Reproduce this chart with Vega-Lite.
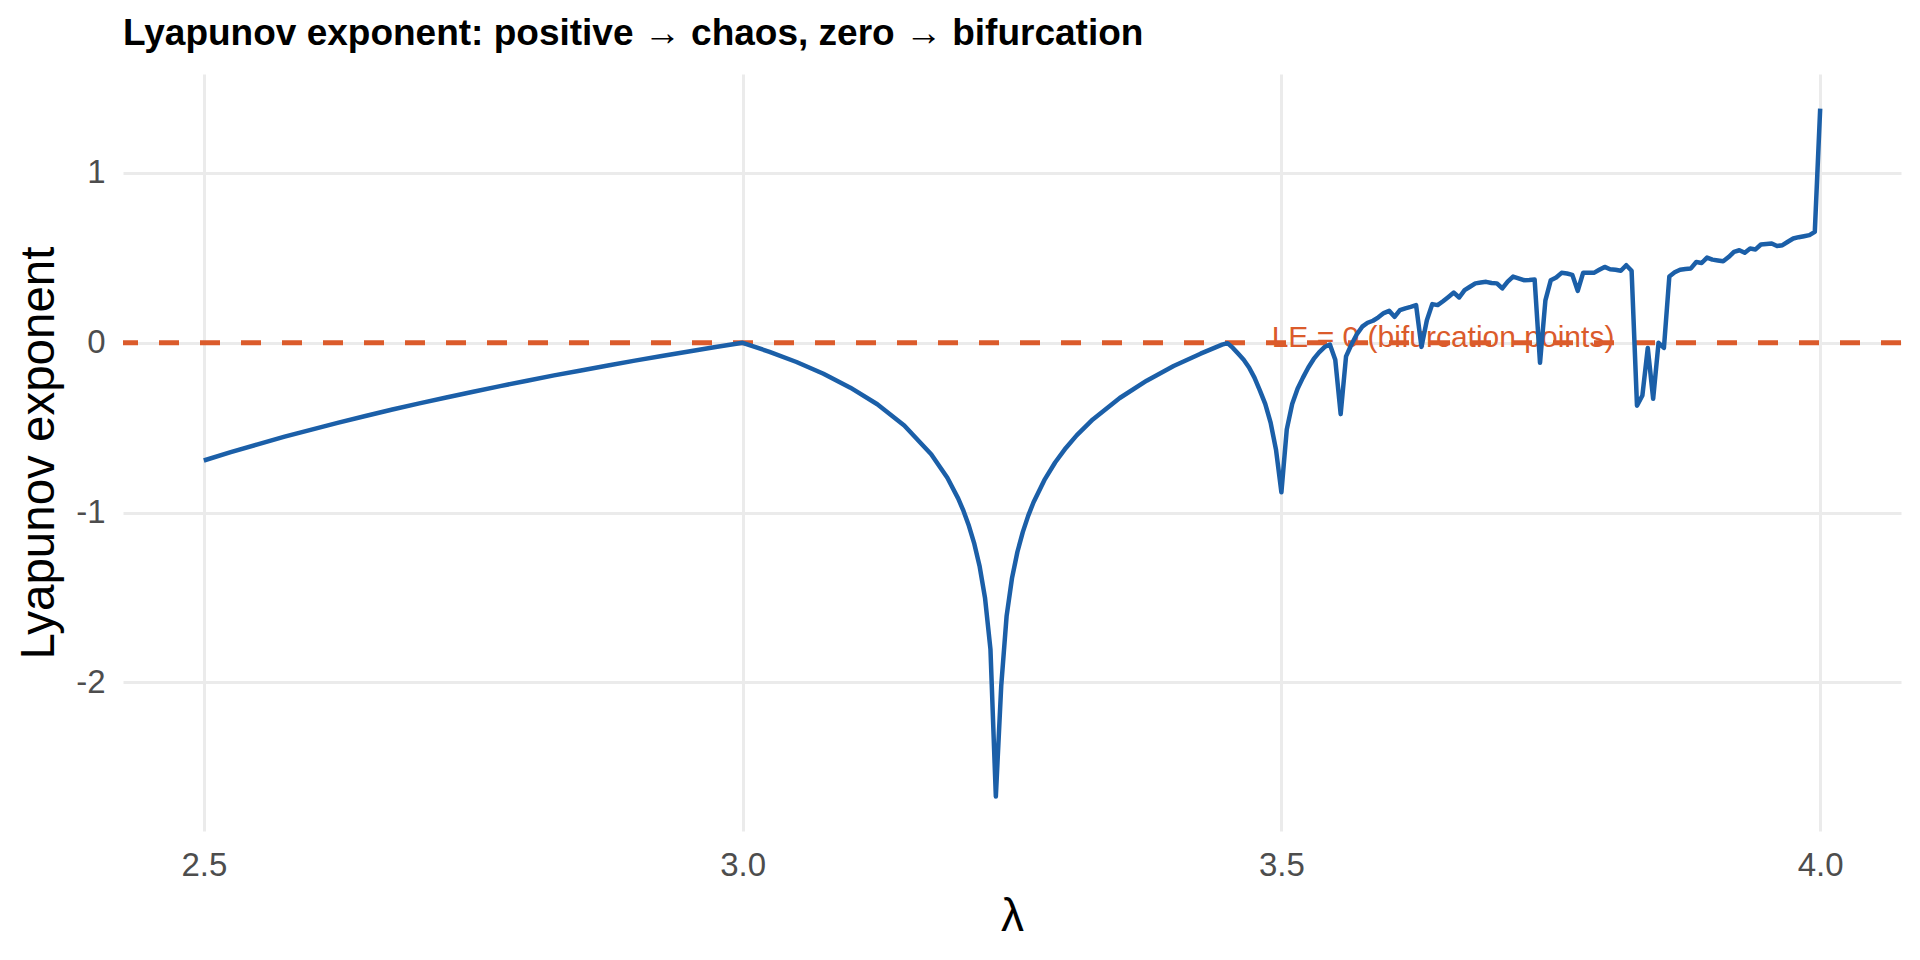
{
  "$schema": "https://vega.github.io/schema/vega-lite/v6.json",
  "width": 1778,
  "height": 757,
  "autosize": {"type": "none"},
  "padding": {"left": 123, "top": 74, "right": 19, "bottom": 129},
  "background": "white",
  "title": {
    "text": "Lyapunov exponent: positive → chaos, zero → bifurcation",
    "anchor": "start",
    "frame": "group",
    "font": "Liberation Sans",
    "fontSize": 37,
    "fontWeight": "bold",
    "color": "#000000",
    "baseline": "alphabetic",
    "offset": -8
  },
  "layer": [
    {
      "data": {"values": [{}]},
      "mark": {"type": "rule", "color": "#DB5B2B", "strokeWidth": 5, "strokeDash": [20, 21]},
      "encoding": {
        "y": {"datum": 0, "type": "quantitative"}
      }
    },
    {
      "data": {"values": [{}]},
      "mark": {
        "type": "text",
        "text": "LE = 0 (bifurcation points)",
        "font": "Liberation Sans",
        "fontSize": 30,
        "color": "#DB5B2B",
        "align": "center",
        "baseline": "middle"
      },
      "encoding": {
        "x": {"datum": 3.65, "type": "quantitative"},
        "y": {"datum": 0.03, "type": "quantitative"}
      }
    },
    {
      "data": {
        "values": [
          {"r": 2.5, "le": -0.693}, {"r": 2.525, "le": -0.644}, {"r": 2.55, "le": -0.598},
          {"r": 2.575, "le": -0.553}, {"r": 2.6, "le": -0.511}, {"r": 2.625, "le": -0.47},
          {"r": 2.65, "le": -0.431}, {"r": 2.675, "le": -0.393}, {"r": 2.7, "le": -0.357},
          {"r": 2.725, "le": -0.322}, {"r": 2.75, "le": -0.288}, {"r": 2.775, "le": -0.255},
          {"r": 2.8, "le": -0.223}, {"r": 2.825, "le": -0.192}, {"r": 2.85, "le": -0.163},
          {"r": 2.875, "le": -0.134}, {"r": 2.9, "le": -0.105}, {"r": 2.925, "le": -0.078},
          {"r": 2.95, "le": -0.051}, {"r": 2.975, "le": -0.025}, {"r": 3.0, "le": 0.0},
          {"r": 3.025, "le": -0.053}, {"r": 3.05, "le": -0.113}, {"r": 3.075, "le": -0.182},
          {"r": 3.1, "le": -0.264}, {"r": 3.125, "le": -0.362}, {"r": 3.15, "le": -0.487},
          {"r": 3.175, "le": -0.656}, {"r": 3.19, "le": -0.795}, {"r": 3.2, "le": -0.916},
          {"r": 3.205, "le": -0.99}, {"r": 3.21, "le": -1.078}, {"r": 3.215, "le": -1.183},
          {"r": 3.22, "le": -1.318}, {"r": 3.225, "le": -1.504}, {"r": 3.23, "le": -1.804},
          {"r": 3.235, "le": -2.672}, {"r": 3.24, "le": -2.02}, {"r": 3.245, "le": -1.609},
          {"r": 3.25, "le": -1.386}, {"r": 3.255, "le": -1.232}, {"r": 3.26, "le": -1.115},
          {"r": 3.265, "le": -1.019}, {"r": 3.27, "le": -0.939}, {"r": 3.28, "le": -0.809},
          {"r": 3.29, "le": -0.705}, {"r": 3.3, "le": -0.619}, {"r": 3.31, "le": -0.545},
          {"r": 3.325, "le": -0.451}, {"r": 3.35, "le": -0.325}, {"r": 3.375, "le": -0.223},
          {"r": 3.4, "le": -0.137}, {"r": 3.425, "le": -0.064}, {"r": 3.44, "le": -0.024},
          {"r": 3.445, "le": -0.011}, {"r": 3.45, "le": -0.002}, {"r": 3.455, "le": -0.03},
          {"r": 3.46, "le": -0.065}, {"r": 3.465, "le": -0.1}, {"r": 3.47, "le": -0.145},
          {"r": 3.475, "le": -0.205}, {"r": 3.48, "le": -0.28}, {"r": 3.485, "le": -0.36},
          {"r": 3.49, "le": -0.47}, {"r": 3.495, "le": -0.63}, {"r": 3.5, "le": -0.88},
          {"r": 3.505, "le": -0.51}, {"r": 3.51, "le": -0.36}, {"r": 3.515, "le": -0.27},
          {"r": 3.52, "le": -0.205}, {"r": 3.525, "le": -0.145}, {"r": 3.53, "le": -0.095},
          {"r": 3.535, "le": -0.056}, {"r": 3.54, "le": -0.025}, {"r": 3.545, "le": -0.01},
          {"r": 3.55, "le": -0.1}, {"r": 3.555, "le": -0.42}, {"r": 3.56, "le": -0.08},
          {"r": 3.565, "le": -0.01}, {"r": 3.57, "le": 0.05}, {"r": 3.575, "le": 0.095},
          {"r": 3.58, "le": 0.118}, {"r": 3.585, "le": 0.13}, {"r": 3.59, "le": 0.15},
          {"r": 3.595, "le": 0.175}, {"r": 3.6, "le": 0.188}, {"r": 3.605, "le": 0.153},
          {"r": 3.61, "le": 0.192}, {"r": 3.615, "le": 0.203}, {"r": 3.62, "le": 0.212},
          {"r": 3.625, "le": 0.222}, {"r": 3.63, "le": -0.024}, {"r": 3.635, "le": 0.133},
          {"r": 3.64, "le": 0.228}, {"r": 3.645, "le": 0.222}, {"r": 3.65, "le": 0.245},
          {"r": 3.655, "le": 0.27}, {"r": 3.66, "le": 0.296}, {"r": 3.665, "le": 0.267},
          {"r": 3.67, "le": 0.31}, {"r": 3.675, "le": 0.33}, {"r": 3.68, "le": 0.35},
          {"r": 3.685, "le": 0.355}, {"r": 3.69, "le": 0.359}, {"r": 3.695, "le": 0.352},
          {"r": 3.7, "le": 0.35}, {"r": 3.705, "le": 0.32}, {"r": 3.71, "le": 0.36},
          {"r": 3.715, "le": 0.39}, {"r": 3.72, "le": 0.38}, {"r": 3.725, "le": 0.369},
          {"r": 3.73, "le": 0.37}, {"r": 3.735, "le": 0.373}, {"r": 3.74, "le": -0.118},
          {"r": 3.745, "le": 0.25}, {"r": 3.75, "le": 0.369}, {"r": 3.755, "le": 0.385},
          {"r": 3.76, "le": 0.412}, {"r": 3.765, "le": 0.408}, {"r": 3.77, "le": 0.4},
          {"r": 3.775, "le": 0.306}, {"r": 3.78, "le": 0.412}, {"r": 3.785, "le": 0.412},
          {"r": 3.79, "le": 0.412}, {"r": 3.795, "le": 0.43}, {"r": 3.8, "le": 0.447},
          {"r": 3.805, "le": 0.433}, {"r": 3.81, "le": 0.43}, {"r": 3.815, "le": 0.424},
          {"r": 3.82, "le": 0.457}, {"r": 3.825, "le": 0.424}, {"r": 3.83, "le": -0.37},
          {"r": 3.835, "le": -0.31}, {"r": 3.84, "le": -0.03}, {"r": 3.845, "le": -0.33},
          {"r": 3.85, "le": 0.0}, {"r": 3.855, "le": -0.03}, {"r": 3.86, "le": 0.39},
          {"r": 3.865, "le": 0.415}, {"r": 3.87, "le": 0.43}, {"r": 3.875, "le": 0.435},
          {"r": 3.88, "le": 0.438}, {"r": 3.885, "le": 0.476}, {"r": 3.89, "le": 0.47},
          {"r": 3.895, "le": 0.502}, {"r": 3.9, "le": 0.49}, {"r": 3.905, "le": 0.485},
          {"r": 3.91, "le": 0.48}, {"r": 3.915, "le": 0.505}, {"r": 3.92, "le": 0.535},
          {"r": 3.925, "le": 0.545}, {"r": 3.93, "le": 0.53}, {"r": 3.935, "le": 0.555},
          {"r": 3.94, "le": 0.55}, {"r": 3.945, "le": 0.579}, {"r": 3.95, "le": 0.582},
          {"r": 3.955, "le": 0.585}, {"r": 3.96, "le": 0.57}, {"r": 3.965, "le": 0.575},
          {"r": 3.97, "le": 0.595}, {"r": 3.975, "le": 0.614}, {"r": 3.98, "le": 0.622},
          {"r": 3.985, "le": 0.628}, {"r": 3.99, "le": 0.634}, {"r": 3.995, "le": 0.653},
          {"r": 4.0, "le": 1.379}
        ]
      },
      "mark": {"type": "line", "color": "#1B5FA8", "strokeWidth": 4.5, "strokeJoin": "round"},
      "encoding": {
        "x": {
          "field": "r",
          "type": "quantitative",
          "scale": {"domain": [2.425, 4.075], "nice": false, "zero": false},
          "axis": {
            "values": [2.5, 3.0, 3.5, 4.0],
            "format": ".1f",
            "title": "λ",
            "labelBaseline": "alphabetic",
            "labelPadding": 44,
            "titleY": 99,
            "titleBaseline": "alphabetic"
          }
        },
        "y": {
          "field": "le",
          "type": "quantitative",
          "scale": {"domain": [-2.875, 1.583], "nice": false, "zero": false},
          "axis": {
            "values": [-2, -1, 0, 1],
            "labelExpr": "'' + datum.value",
            "title": "Lyapunov exponent",
            "titleFontSize": 47.5,
            "labelPadding": 18,
            "labelBaseline": "middle",
            "titleX": -70,
            "titleY": 378.5,
            "titleAngle": -90,
            "titleAlign": "center",
            "titleBaseline": "alphabetic"
          }
        }
      }
    }
  ],
  "config": {
    "view": {"stroke": null},
    "axis": {
      "domain": false,
      "ticks": false,
      "tickSize": 0,
      "grid": true,
      "gridColor": "#EBEBEB",
      "gridWidth": 3,
      "labelFont": "Liberation Sans",
      "labelFontSize": 33,
      "labelColor": "#4D4D4D",
      "titleFont": "Liberation Sans",
      "titleFontSize": 46,
      "titleFontWeight": "normal",
      "titleColor": "#000000"
    }
  }
}
